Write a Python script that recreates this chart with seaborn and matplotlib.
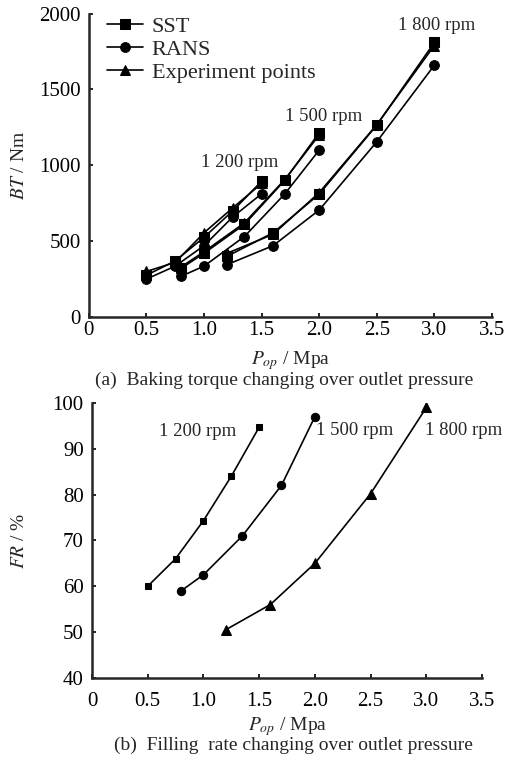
import pandas as pd
import matplotlib.pyplot as plt
import seaborn as sns

# (a) braking torque, three rpm groups, three models each
x_1200 = [0.5, 0.75, 1.0, 1.25, 1.5]
x_1500 = [0.8, 1.0, 1.35, 1.7, 2.0]
x_1800 = [1.2, 1.6, 2.0, 2.5, 3.0]

sst_1200 = [275, 370, 525, 700, 895]
rans_1200 = [250, 335, 470, 660, 812]
exp_1200 = [300, 360, 555, 720, 880]

sst_1500 = [320, 420, 610, 900, 1215]
rans_1500 = [268, 335, 530, 810, 1100]
exp_1500 = [330, 430, 620, 905, 1200]

sst_1800 = [400, 555, 810, 1265, 1810]
rans_1800 = [345, 470, 705, 1155, 1660]
exp_1800 = [420, 545, 820, 1268, 1790]

# (b) filling rate
fr_1200 = [60, 66, 74.3, 84, 94.7]
fr_1500 = [59, 62.5, 71, 82, 97]
fr_1800 = [50.5, 56, 65, 80.2, 99]

models = ["SST", "RANS", "Experiment points"]
xticks = [0, 0.5, 1.0, 1.5, 2.0, 2.5, 3.0, 3.5]
xtick_labels = ["0", "0.5", "1.0", "1.5", "2.0", "2.5", "3.0", "3.5"]

rows = []
for rpm, xs, series in [
    ("1200", x_1200, [sst_1200, rans_1200, exp_1200]),
    ("1500", x_1500, [sst_1500, rans_1500, exp_1500]),
    ("1800", x_1800, [sst_1800, rans_1800, exp_1800]),
]:
    for model, ys in zip(models, series):
        for xv, yv in zip(xs, ys):
            rows.append({"P": xv, "BT": yv, "model": model, "rpm": rpm})
df_bt = pd.DataFrame(rows)

sns.set_style("ticks")
plt.rcParams["font.family"] = ["Liberation Serif", "DejaVu Serif"]
plt.rcParams["mathtext.fontset"] = "stix"
plt.rcParams["axes.linewidth"] = 1.8

fig = plt.figure(figsize=(5.14, 7.6), dpi=100)
ax1 = fig.add_axes([0.173, 0.583, 0.784, 0.399])
ax2 = fig.add_axes([0.179, 0.108, 0.759, 0.362])

sns.lineplot(
    data=df_bt, x="P", y="BT", style="model", units="rpm", estimator=None,
    markers={"SST": "s", "RANS": "o", "Experiment points": "^"},
    dashes=False, color="black", markersize=7, linewidth=1.2,
    markeredgecolor="black", ax=ax1, sort=False,
)
leg = ax1.get_legend()
handles = leg.legend_handles
labels = [t.get_text() for t in leg.get_texts()]
ax1.legend(handles, labels, loc="upper left", bbox_to_anchor=(0.012, 1.035),
           frameon=False, fontsize=16, handlelength=1.6, labelspacing=0.1,
           handletextpad=0.4, borderaxespad=0.2)

ax1.set_xlim(0, 3.5)
ax1.set_ylim(0, 2000)
ax1.set_xticks(xticks)
ax1.set_xticklabels(xtick_labels)
ax1.set_yticks([0, 500, 1000, 1500, 2000])
ax1.set_xlabel("$P_{op}$ / Mpa", fontsize=14)
ax1.set_ylabel("$BT$ / Nm", fontsize=14)
ax1.xaxis.set_label_coords(0.5, -0.105)
ax1.yaxis.set_label_coords(-0.15, 0.5)
ax1.text(1.31, 1020, "1 200 rpm", fontsize=13.5, ha="center", va="center")
ax1.text(2.04, 1320, "1 500 rpm", fontsize=13.5, ha="center", va="center")
ax1.text(3.02, 1920, "1 800 rpm", fontsize=13.5, ha="center", va="center")

# (b)
for xs, ys, mk, ms in [(x_1200, fr_1200, "s", 4.5), (x_1500, fr_1500, "o", 6),
                       (x_1800, fr_1800, "^", 7.5)]:
    sns.lineplot(x=xs, y=ys, marker=mk, markersize=ms, color="black",
                 markeredgecolor="black", linewidth=1.2, ax=ax2,
                 estimator=None, sort=False)

ax2.set_xlim(0, 3.5)
ax2.set_ylim(40, 100)
ax2.set_xticks(xticks)
ax2.set_xticklabels(xtick_labels)
ax2.set_yticks([40, 50, 60, 70, 80, 90, 100])
ax2.set_xlabel("$P_{op}$ / Mpa", fontsize=14)
ax2.set_ylabel("$FR$ / %", fontsize=14)
ax2.xaxis.set_label_coords(0.5, -0.135)
ax2.yaxis.set_label_coords(-0.165, 0.5)
ax2.text(0.95, 93.8, "1 200 rpm", fontsize=13.5, ha="center", va="center")
ax2.text(2.36, 94.0, "1 500 rpm", fontsize=13.5, ha="center", va="center")
ax2.text(3.33, 94.0, "1 800 rpm", fontsize=13.5, ha="center", va="center")

for ax in (ax1, ax2):
    sns.despine(ax=ax)
    ax.tick_params(direction="in", length=3, width=1.2, labelsize=15,
                   colors="black")
    ax.tick_params(axis="y", pad=6)
ax1.tick_params(axis="x", pad=3)
ax2.tick_params(axis="x", pad=10)

fig.text(0.553, 0.5, "(a)  Baking torque changing over outlet pressure",
         ha="center", va="center", fontsize=14)
fig.text(0.571, 0.0197, "(b)  Filling  rate changing over outlet pressure",
         ha="center", va="center", fontsize=14)

fig.savefig("out.png", dpi=100, facecolor="white")
